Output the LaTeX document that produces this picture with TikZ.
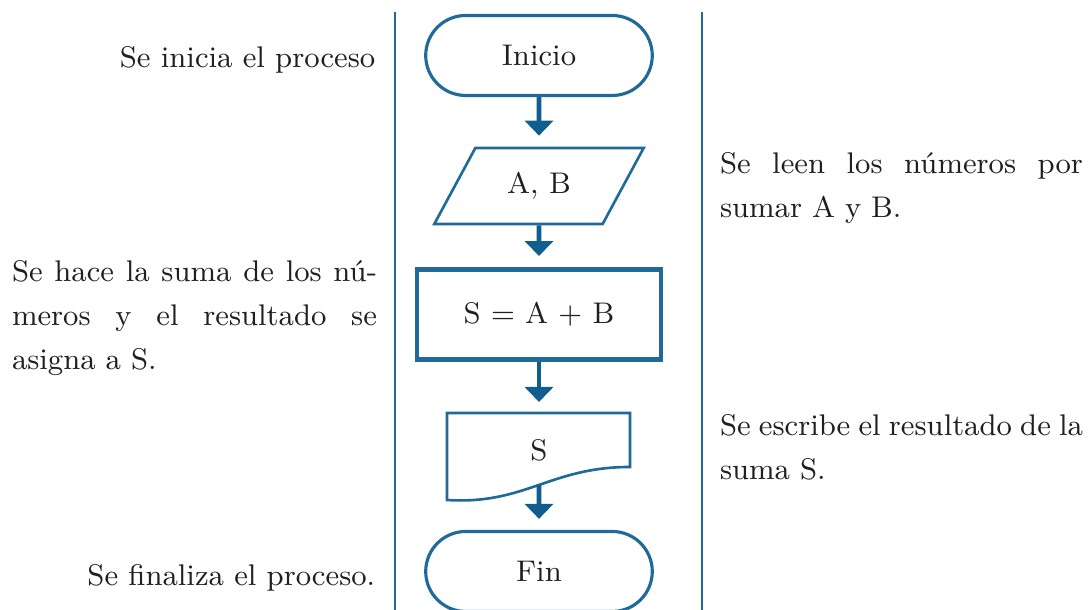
\documentclass[tikz,border=0pt]{standalone}
\usetikzlibrary{shapes.geometric,shapes.misc,arrows.meta}

\definecolor{flowblue}{HTML}{1F6A99}
\definecolor{arrowblue}{HTML}{0F5E8E}
\definecolor{txt}{HTML}{231F20}

% renglon justificado a un ancho dado
\newcommand{\renglon}[3][0.3em]{\leavevmode\hbox to #2{\spaceskip=#1 plus 1fil\relax #3}}

\begin{document}
\begin{tikzpicture}[font=\fontsize{8.5}{12.5}\selectfont,
    terminal/.style={draw=flowblue, line width=0.9pt, rounded rectangle, minimum width=2.5cm, minimum height=0.8cm, text=txt},
    datos/.style={draw=flowblue, line width=0.75pt, trapezium, trapezium left angle=61, trapezium right angle=119, trapezium stretches=true, minimum width=2.1cm, minimum height=0.76cm, text=txt},
    proceso/.style={draw=flowblue, line width=1.4pt, rectangle, minimum width=2.44cm, minimum height=0.9cm, text=txt},
    nota/.style={text=txt, inner sep=0pt},
    flecha/.style={draw=arrowblue, line width=1.4pt, -{Triangle[width=0.28cm,length=0.15cm]}, shorten >=0.11cm}]
      \clip (0,0) rectangle (10.9,6.1);
      \useasboundingbox (0,0) rectangle (10.9,6.1);
      % columnas
      \draw[flowblue, line width=0.6pt] (3.95,5.98) -- (3.95,0);
      \draw[flowblue, line width=0.6pt] (7.02,5.98) -- (7.02,0);
      % diagrama
      \node[terminal] (inicio) at (5.39,5.545) {Inicio};
      \node[datos] (leer) at (5.39,4.24) {A, B};
      \node[proceso] (suma) at (5.39,2.955) {S = A + B};
      \draw[flowblue, line width=0.75pt] (4.47,1.97) -- (6.30,1.97) -- (6.30,1.43) .. controls (5.5,1.43) and (5.25,1.05) .. (4.47,1.10) -- cycle;
      \node[text=txt] (salida) at (5.39,1.6) {S};
      \coordinate (onda) at (5.39,1.25);
      \node[terminal] (fin) at (5.39,0.385) {Fin};
      \draw[flecha] (inicio) -- (leer);
      \draw[flecha] (leer) -- (suma);
      \draw[flecha] (suma) -- (5.39,1.97);
      \draw[flecha] (onda) -- (fin);
      % textos
      \node[nota, anchor=east] (t1) at (3.76,5.50) {Se inicia el proceso};
      \node[nota, align=left, text width=3.65cm] (t2) at (1.945,2.92) {\renglon{3.65cm}{Se hace la suma de los nú-}\\ \renglon{3.65cm}{meros y el resultado se}\\ asigna a S.};
      \node[nota, anchor=east] (t3) at (3.76,0.32) {Se finaliza el proceso.};
      \node[nota, align=left, text width=3.63cm] (t4) at (9.015,4.215) {\renglon{3.63cm}{Se leen los números por}\\ sumar A y B.};
      \node[nota, align=left, text width=3.63cm] (t5) at (9.015,1.625) {\renglon[0.2em]{3.63cm}{Se escribe el resultado de la}\\ suma S.};
\end{tikzpicture}
\end{document}
